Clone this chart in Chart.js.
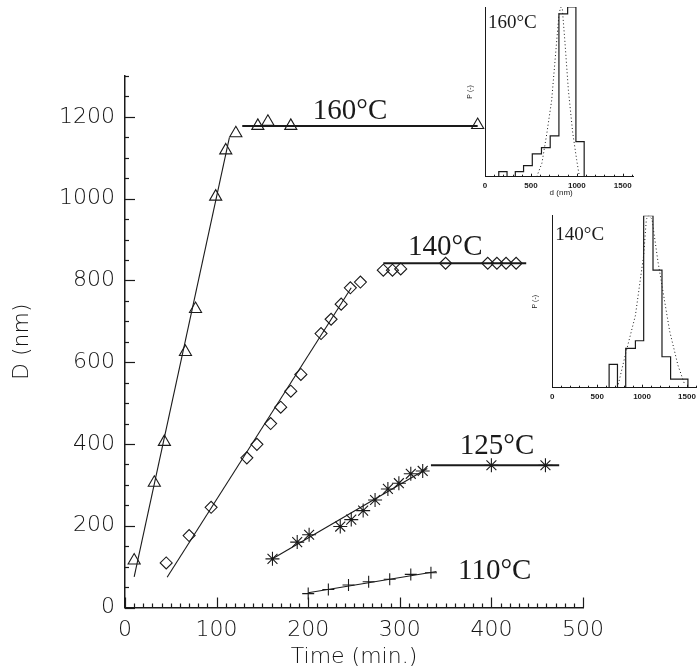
<!DOCTYPE html>
<html>
<head>
<meta charset="utf-8">
<script src="https://cdn.jsdelivr.net/npm/chart.js@4.4.1/dist/chart.umd.min.js"></script>
<style>
  html, body { margin: 0; padding: 0; background: #fff; overflow: hidden; width: 697px; height: 670px; }
  canvas { position: absolute; }
  #main { left: 0; top: 0; }
  #in160 { left: 455px; top: 0; }
  #in140 { left: 520px; top: 205px; }
</style>
</head>
<body>
<canvas id="main" width="697" height="670"></canvas>
<canvas id="in160" width="190" height="200"></canvas>
<canvas id="in140" width="180" height="205"></canvas>
<script>
// ---- Particle diameter D (nm) versus time (min) at four temperatures ----
const time160 = [10, 32, 43, 66, 77, 99, 110, 121, 145, 156, 181, 385];
const diam160 = [115, 305, 405, 625, 730, 1005, 1118, 1160, 1178, 1188, 1178, 1180];
const fit160Rise = { t: [10, 114], d: [75, 1150] };
const fit160Plateau = { t: [128, 385], d: [1178, 1178] };

const time140 = [45, 70, 94, 133, 144, 159, 170, 181, 192, 214, 225, 236, 246, 257, 282, 292, 301, 350, 396, 406, 416, 427];
const diam140 = [109, 176, 245, 366, 399, 450, 490, 529, 570, 670, 705, 742, 782, 796, 825, 825, 828, 842, 842, 842, 842, 842];
const fit140Rise = { t: [46, 247], d: [74, 782] };
const fit140Plateau = { t: [282, 438], d: [842, 842] };

const time125 = [161, 188, 201, 235, 247, 260, 273, 287, 299, 312, 325, 400, 459];
const diam125 = [119, 160, 178, 198, 215, 237, 263, 290, 304, 327, 334, 348, 348];
const fit125Rise = { t: [161, 330], d: [119, 340] };
const fit125Plateau = { t: [334, 474], d: [348, 348] };

const time110 = [200, 222, 244, 266, 289, 312, 334];
const diam110 = [34, 44, 55, 63, 69, 81, 85];
const fit110 = { t: [200, 340], d: [36, 88] };

const seriesNames = ['160°C', '140°C', '125°C', '110°C'];

// Axis ranges and tick steps
const xRange = [0, 500];
const yRange = [0, 1300];
const xMajor = 100, xMinor = 10;
const yMajor = 200, yMinor = 50;

// ---- Size distributions (inset histograms), d in nm, P normalised ----
const hist160Edges = [150, 240, 330, 420, 515, 615, 710, 805, 900, 990, 1080];
const hist160P = [0.03, 0, 0.03, 0.065, 0.134, 0.171, 0.24, 0.96, 1.0, 0.207];
const fitDist160D = [563, 620, 672, 726, 773, 806, 825, 842, 871, 908, 955, 998, 1028];
const fitDist160P = [0, 0.08, 0.25, 0.45, 0.75, 0.96, 1.0, 0.99, 0.79, 0.51, 0.26, 0.1, 0];

const hist140Edges = [633, 726, 818, 926, 1018, 1122, 1222, 1318, 1511];
const hist140P = [0.136, 0, 0.229, 0.273, 1.0, 0.684, 0.18, 0.05];
const fitDist140D = [726, 818, 926, 1018, 1048, 1074, 1111, 1178, 1233, 1307, 1400, 1474];
const fitDist140P = [0, 0.2, 0.42, 0.77, 0.98, 1.0, 0.98, 0.73, 0.56, 0.33, 0.13, 0.02];

const insetRange = [0, 1615];
const insetTickLabels = [0, 500, 1000, 1500];

// ---------------------------------------------------------------------
const INK = '#1a1a1a';
const AXIS_INK = '#141414';
const AXIS_FONT = '"DejaVu Sans", sans-serif';
const pts = (xs, ys) => xs.map((x, i) => ({ x, y: ys[i] }));

function markerSet(xs, ys, style, radius) {
  return {
    data: pts(xs, ys), showLine: false, pointStyle: style, pointRadius: radius,
    pointHoverRadius: radius, pointBorderColor: INK, pointBackgroundColor: 'rgba(0,0,0,0)',
    pointBorderWidth: 1.1, borderColor: INK
  };
}
function fitLine(f, width) {
  return {
    data: pts(f.t, f.d), showLine: true, pointRadius: 0, borderColor: INK,
    borderWidth: width, fill: false, tension: 0
  };
}

// Inward tick marks on the left and bottom axes
const innerTicks = {
  id: 'innerTicks',
  afterDatasetsDraw(chart, args, opts) {
    const { ctx, chartArea: a, scales: { x, y } } = chart;
    ctx.save();
    ctx.strokeStyle = INK;
    ctx.lineWidth = opts.width || 1;
    for (let v = opts.x[0]; v <= opts.x[1] + 1e-9; v += opts.x[3]) {
      const px = Math.round(x.getPixelForValue(v)) + 0.5;
      const len = Math.abs(v / opts.x[2] - Math.round(v / opts.x[2])) < 1e-6 ? opts.major : opts.minor;
      ctx.beginPath(); ctx.moveTo(px, a.bottom); ctx.lineTo(px, a.bottom - len); ctx.stroke();
    }
    if (opts.y) {
      for (let v = opts.y[0]; v <= opts.y[1] + 1e-9; v += opts.y[3]) {
        const py = Math.round(y.getPixelForValue(v)) + 0.5;
        const len = Math.abs(v / opts.y[2] - Math.round(v / opts.y[2])) < 1e-6 ? opts.major : opts.minor;
        ctx.beginPath(); ctx.moveTo(a.left, py); ctx.lineTo(a.left + len, py); ctx.stroke();
      }
    }
    ctx.restore();
  }
};

// Temperature labels placed at data coordinates
const seriesLabels = {
  id: 'seriesLabels',
  afterDatasetsDraw(chart, args, opts) {
    const { ctx, scales: { x, y } } = chart;
    ctx.save();
    ctx.fillStyle = INK;
    ctx.font = opts.font;
    ctx.textAlign = 'left';
    ctx.textBaseline = 'alphabetic';
    opts.items.forEach(it => ctx.fillText(it.text, x.getPixelForValue(it.t), y.getPixelForValue(it.d)));
    ctx.restore();
  }
};

new Chart(document.getElementById('main'), {
  type: 'scatter',
  data: {
    datasets: [
      markerSet(time160, diam160, 'triangle', 7),
      markerSet(time140, diam140, 'rectRot', 6),
      markerSet(time125, diam125, 'star', 7),
      markerSet(time110, diam110, 'cross', 6),
      fitLine(fit160Rise, 1.1), fitLine(fit160Plateau, 2),
      fitLine(fit140Rise, 1.1), fitLine(fit140Plateau, 2),
      fitLine(fit125Rise, 1.1), fitLine(fit125Plateau, 2),
      fitLine(fit110, 1.1)
    ]
  },
  options: {
    responsive: false,
    animation: false,
    events: [],
    layout: { padding: { left: 0, top: 76, right: 114, bottom: 0 } },
    plugins: {
      legend: { display: false },
      tooltip: { enabled: false },
      innerTicks: { x: [xRange[0], xRange[1], xMajor, xMinor], y: [yRange[0], yRange[1], yMajor, yMinor], major: 10, minor: 4, width: 1.2 },
      seriesLabels: {
        font: '29px "Liberation Serif", "Times New Roman", serif',
        items: [
          { text: seriesNames[0], t: 205, d: 1194 },
          { text: seriesNames[1], t: 309, d: 861 },
          { text: seriesNames[2], t: 365.5, d: 375 },
          { text: seriesNames[3], t: 363.5, d: 70 }
        ]
      }
    },
    scales: {
      x: {
        type: 'linear', min: xRange[0], max: xRange[1],
        grid: { display: false, drawTicks: false },
        border: { display: true, color: INK, width: 1.5 },
        ticks: { stepSize: xMajor, autoSkip: false, maxRotation: 0, padding: 10, color: AXIS_INK,
                 font: { family: AXIS_FONT, size: 22, weight: 300 } },
        title: { display: true, text: 'Time (min.)', color: AXIS_INK, padding: { top: 0, bottom: 0 },
                 font: { family: AXIS_FONT, size: 22, weight: 300 } },
        afterFit: s => { s.height = 62.5; }
      },
      y: {
        type: 'linear', min: yRange[0], max: yRange[1],
        grid: { display: false, drawTicks: false },
        border: { display: true, color: INK, width: 1.5 },
        ticks: { stepSize: yMajor, autoSkip: false, padding: 10, color: AXIS_INK,
                 font: { family: AXIS_FONT, size: 22, weight: 300 },
                 callback: v => (v % yMajor === 0 ? String(v) : '') },
        title: { display: true, text: 'D (nm)', color: AXIS_INK, padding: { top: 9, bottom: 0 },
                 font: { family: AXIS_FONT, size: 22, weight: 300 } },
        afterFit: s => { s.width = 125; }
      }
    }
  },
  plugins: [innerTicks, seriesLabels]
});

// ---- Inset histograms ----
function stepPoints(edges, p) {
  const out = [{ x: edges[0], y: 0 }];
  p.forEach((v, i) => out.push({ x: edges[i], y: v }));
  out.push({ x: edges[edges.length - 1], y: 0 });
  return out;
}

const insetText = {
  id: 'insetText',
  afterDatasetsDraw(chart, args, opts) {
    const { ctx, chartArea: a } = chart;
    ctx.save();
    ctx.fillStyle = INK;
    ctx.font = '19px "Liberation Serif", "Times New Roman", serif';
    ctx.textBaseline = 'alphabetic';
    ctx.fillText(opts.title, a.left + 3, a.top + opts.titleDy);
    ctx.font = '7px "Liberation Sans", Arial, sans-serif';
    ctx.save();
    ctx.translate(a.left - opts.pDx, (a.top + a.bottom) / 2);
    ctx.rotate(-Math.PI / 2);
    ctx.textAlign = 'center';
    ctx.textBaseline = 'middle';
    ctx.fillText('P (-)', 0, 0);
    ctx.restore();
    if (opts.xTitle) {
      ctx.textAlign = 'center';
      ctx.textBaseline = 'middle';
      ctx.font = '8px "Liberation Sans", Arial, sans-serif';
      ctx.fillText(opts.xTitle, (a.left + a.right) / 2 + 2, a.bottom + 16);
    }
    ctx.restore();
  }
};

function inset(id, edges, p, fd, fp, pad, xHeight, text) {
  new Chart(document.getElementById(id), {
    type: 'scatter',
    data: {
      datasets: [
        { data: stepPoints(edges, p), showLine: true, stepped: 'before', pointRadius: 0,
          borderColor: INK, borderWidth: 1.2, fill: false },
        { data: pts(fd, fp), showLine: true, pointRadius: 0, borderColor: INK,
          borderWidth: 1, borderDash: [1, 2.5], fill: false, tension: 0 }
      ]
    },
    options: {
      responsive: false, animation: false, events: [],
      layout: { padding: pad },
      plugins: {
        legend: { display: false }, tooltip: { enabled: false },
        innerTicks: { x: [insetRange[0], 1600, 500, 100], major: 3, minor: 2, width: 1 },
        insetText: text
      },
      scales: {
        x: {
          type: 'linear', min: insetRange[0], max: insetRange[1],
          grid: { display: false, drawTicks: false },
          border: { display: true, color: INK, width: 1 },
          afterBuildTicks: s => { s.ticks = insetTickLabels.map(v => ({ value: v })); },
          ticks: { autoSkip: false, maxRotation: 0, padding: 4, color: INK,
                   font: { family: '"Liberation Sans", Arial, sans-serif', size: 8, weight: 'bold' },
                   callback: v => String(v) },
          afterFit: s => { s.height = xHeight; }
        },
        y: {
          type: 'linear', min: 0, max: 1,
          grid: { display: false, drawTicks: false },
          border: { display: true, color: INK, width: 1 },
          ticks: { display: false },
          afterFit: s => { s.width = 0; }
        }
      }
    },
    plugins: [innerTicks, insetText]
  });
}

inset('in160', hist160Edges, hist160P, fitDist160D, fitDist160P,
      { left: 30, top: 7, right: 11.7, bottom: 0 }, 23.3,
      { title: seriesNames[0], titleDy: 21, pDx: 15, xTitle: 'd (nm)' });
inset('in140', hist140Edges, hist140P, fitDist140D, fitDist140P,
      { left: 32.3, top: 10.7, right: 2.3, bottom: 0 }, 22.3,
      { title: seriesNames[1], titleDy: 24, pDx: 17 });
</script>
</body>
</html>
